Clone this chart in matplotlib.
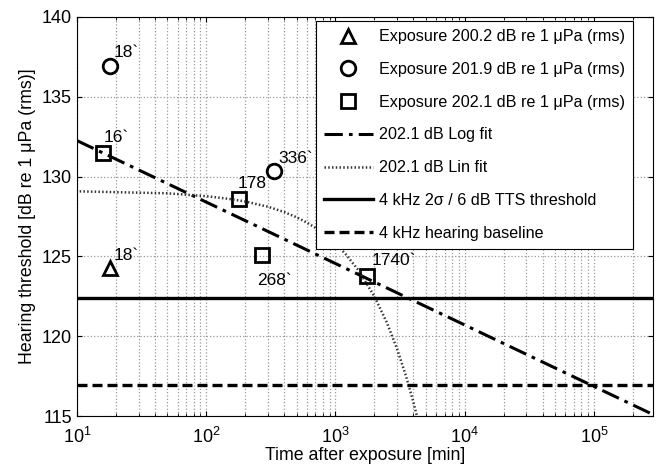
import numpy as np
import matplotlib
matplotlib.use('Agg')
import matplotlib.pyplot as plt
from matplotlib.ticker import FuncFormatter, LogLocator

plt.rcParams['font.family'] = ['Liberation Sans', 'DejaVu Sans']
plt.rcParams['mathtext.default'] = 'regular'

# measured thresholds (time in minutes, dB)
tri_t = [18]
tri_db = [124.25]
circ_t = [18, 336]
circ_db = [136.95, 130.35]
sq_t = [16, 178, 268, 1740]
sq_db = [131.45, 128.6, 125.1, 123.75]

# fit curves
log_fit_t = [10, 2.86e5]
log_fit_db = [132.25, 115.1]
lin_fit_t = [10.5, 50, 100, 150, 200, 300, 400, 500, 600, 700, 800, 1000, 1200,
             1500, 2000, 2500, 3000, 3500, 4000, 4300]
lin_fit_db = [129.07, 128.95, 128.77, 128.6, 128.44, 128.11, 127.78, 127.45, 127.12,
              126.79, 126.46, 125.8, 125.14, 124.15, 122.5, 120.85, 119.2, 117.55,
              115.9, 114.9]

tts_threshold = 122.4
baseline = 116.95

fig = plt.figure(figsize=(6.69, 4.67), dpi=100)
ax = fig.add_axes([0.115, 0.109, 0.861, 0.855])

ax.plot(tri_t, tri_db, '^', ms=10, mfc='none', mec='k', mew=2,
        label='Exposure 200.2 dB re 1 \u03bcPa (rms)')
ax.plot(circ_t, circ_db, 'o', ms=10.5, mfc='none', mec='k', mew=2,
        label='Exposure 201.9 dB re 1 \u03bcPa (rms)')
ax.plot(sq_t, sq_db, 's', ms=10, mfc='none', mec='k', mew=2,
        label='Exposure 202.1 dB re 1 \u03bcPa (rms)')
ax.plot(log_fit_t, log_fit_db, color='k', lw=2.2, linestyle=(0, (6, 2, 1.2, 2)),
        label='202.1 dB Log fit')
ax.plot(lin_fit_t, lin_fit_db, color='#333333', lw=1.8, linestyle=(0, (0.6, 0.9)),
        label='202.1 dB Lin fit')
ax.axhline(tts_threshold, color='k', lw=2.4, label='4 kHz 2\u03c3 / 6 dB TTS threshold')
ax.axhline(baseline, color='k', lw=2.4, linestyle=(0, (3, 1.5)), label='4 kHz hearing baseline')

# annotations next to points
ann = [(18, 124.25, '18`', 3, 6), (18, 136.95, '18`', 3, 6), (336, 130.35, '336`', 3, 6),
       (16, 131.45, '16`', 0, 8), (178, 128.6, '178', -1, 8), (268, 125.1, '268`', -3, -22),
       (1740, 123.75, '1740`', 4, 8)]
for t, db, s, dx, dy in ann:
    ax.annotate(s, (t, db), xytext=(dx, dy), textcoords='offset points', fontsize=12.5)

ax.set_xscale('log')
ax.set_xlim(10, 2.86e5)
ax.set_ylim(115, 140)
ax.set_yticks([115, 120, 125, 130, 135, 140])
ax.xaxis.set_major_locator(LogLocator(base=10, numticks=10))
ax.xaxis.set_major_formatter(FuncFormatter(lambda v, p: '$10^{%d}$' % round(np.log10(v))))
ax.tick_params(which='both', direction='in', top=True, right=True, labelsize=13)
ax.tick_params(axis='x', which='major', pad=8)
ax.grid(which='major', color='#999999', linestyle=':', lw=0.9)
ax.grid(which='minor', axis='x', color='#999999', linestyle=':', lw=0.9)

ax.set_xlabel('Time after exposure [min]', fontsize=12.8, labelpad=0)
ax.set_ylabel('Hearing threshold [dB re 1 \u03bcPa (rms)]', fontsize=12.8)

leg = ax.legend(loc='upper right', bbox_to_anchor=(0.971, 0.997), fontsize=11.6,
                handlelength=3.0, labelspacing=1.1, borderpad=0.5, fancybox=False,
                edgecolor='k', framealpha=1, handletextpad=0.4, borderaxespad=0.2)
leg.get_frame().set_linewidth(0.8)

fig.savefig('out.png', dpi=100)
